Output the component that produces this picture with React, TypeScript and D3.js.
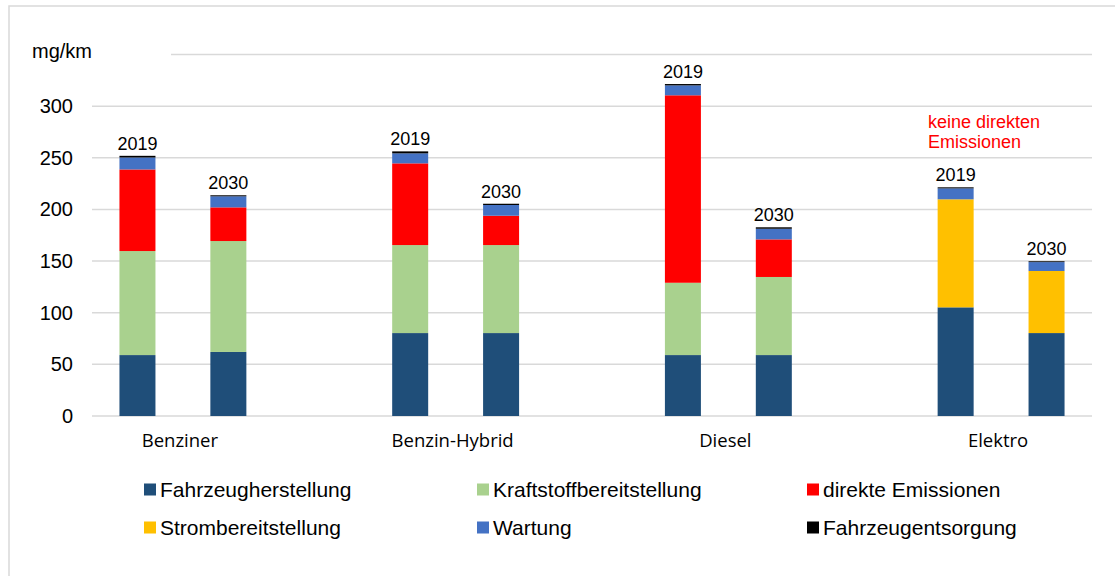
import React from 'react';
import * as d3 from 'd3';

// categories and the two years per category
const categories = ['Benziner', 'Benzin-Hybrid', 'Diesel', 'Elektro'];
const years = ['2019', '2030'];

// series values, order: Benziner 19/30, Hybrid 19/30, Diesel 19/30, Elektro 19/30
const fahrzeugherstellung = [59, 62, 80.3, 80.3, 59, 59, 105.2, 80.3];
const kraftstoffbereitstellung = [100.7, 107.4, 85.2, 85.2, 70, 75.6, 0, 0];
const direkteEmissionen = [79, 32.6, 79.1, 28.4, 181.5, 36.4, 0, 0];
const strombereitstellung = [0, 0, 0, 0, 0, 0, 104.6, 60.1];
const wartung = [11.6, 10.7, 9.7, 10.4, 9.6, 10.3, 10.6, 8.6];
const fahrzeugentsorgung = [1.6, 1, 1.9, 1.2, 1.3, 1.4, 1, 0.8];

const seriesNames = [
  'Fahrzeugherstellung',
  'Kraftstoffbereitstellung',
  'direkte Emissionen',
  'Strombereitstellung',
  'Wartung',
  'Fahrzeugentsorgung',
];
const seriesColors = ['#1F4E79', '#A9D18E', '#FF0000', '#FFC000', '#4472C4', '#000000'];
const seriesValues = [
  fahrzeugherstellung,
  kraftstoffbereitstellung,
  direkteEmissionen,
  strombereitstellung,
  wartung,
  fahrzeugentsorgung,
];

const yTicks = [0, 50, 100, 150, 200, 250, 300, 350];

const width = 1115;
const height = 576;
const plot = { left: 92, right: 1092, top: 54.5, bottom: 416 };

const App = () => {
  // 11 slots: two bars per category, one empty slot between categories
  const slots: string[] = [];
  categories.forEach((c, i) => {
    years.forEach(y => slots.push(`${c}|${y}`));
    if (i < categories.length - 1) slots.push(`gap${i}`);
  });

  const x = d3.scaleBand().domain(slots).range([plot.left, plot.right]).padding(0);
  const y = d3.scaleLinear().domain([0, 350]).range([plot.bottom, plot.top]);
  const barW = 36;

  const rows = slots
    .filter(s => !s.startsWith('gap'))
    .map((s, i) => {
      const row: any = { key: s };
      seriesNames.forEach((n, j) => (row[n] = seriesValues[j][i]));
      return row;
    });

  const stacked = d3.stack().keys(seriesNames)(rows);
  const totals = rows.map(r => d3.sum(seriesNames, n => r[n]));

  const font = "'Liberation Sans', Arial, sans-serif";

  return (
    <div style={{ position: 'absolute', left: 0, top: 0 }}>
      <svg width={width} height={height} style={{ display: 'block', background: '#fff' }}>
        <rect x={9} y={6} width={1120} height={600} fill="#fff" stroke="#D9D9D9" strokeWidth={1.5} />

        {/* gridlines */}
        {yTicks.map(t => (
          <line key={t} x1={plot.left} x2={plot.right} y1={y(t)} y2={y(t)} stroke="#D9D9D9" strokeWidth={1.5} />
        ))}

        {/* y tick labels (350 is hidden behind the unit box) */}
        {yTicks.filter(t => t < 350).map(t => (
          <text key={t} x={73} y={y(t)} dy="0.35em" textAnchor="end" fontFamily={font} fontSize={20} fill="#000">
            {t}
          </text>
        ))}

        {/* unit text box */}
        <rect x={20} y={38} width={151} height={32} fill="#fff" />
        <text x={32} y={58} fontFamily={font} fontSize={20} fill="#000">mg/km</text>

        {/* bars */}
        {stacked.map((layer, j) => (
          <g key={layer.key} fill={seriesColors[j]}>
            {layer.map((d, i) => {
              const h = y(d[0]) - y(d[1]);
              if (h <= 0) return null;
              return (
                <rect
                  key={i}
                  x={(x(rows[i].key) as number) + x.bandwidth() / 2 - barW / 2}
                  y={y(d[1])}
                  width={barW}
                  height={h}
                />
              );
            })}
          </g>
        ))}

        {/* year labels */}
        {rows.map((r, i) => (
          <text
            key={r.key}
            x={(x(r.key) as number) + x.bandwidth() / 2}
            y={y(totals[i]) - 6}
            textAnchor="middle"
            fontFamily={font}
            fontSize={18}
            fill="#000"
          >
            {r.key.split('|')[1]}
          </text>
        ))}

        {/* category labels */}
        {categories.map(c => {
          const a = (x(`${c}|${years[0]}`) as number) + x.bandwidth() / 2;
          const b = (x(`${c}|${years[1]}`) as number) + x.bandwidth() / 2;
          return (
            <text key={c} x={(a + b) / 2 - 3} y={447} textAnchor="middle" fontFamily="'Open Sans', sans-serif" fontSize={18.5} fill="#000">
              {c}
            </text>
          );
        })}

        {/* annotation */}
        <text x={928} y={128} fontFamily={font} fontSize={18} fill="#FF0000">keine direkten</text>
        <text x={928} y={148} fontFamily={font} fontSize={18} fill="#FF0000">Emissionen</text>

        {/* legend */}
        {seriesNames.map((n, i) => {
          const col = i % 3;
          const row = Math.floor(i / 3);
          const lx = [144, 477, 807][col];
          const ly = 497 + row * 38;
          return (
            <g key={n}>
              <rect x={lx} y={ly - 13.5} width={12} height={12} fill={seriesColors[i]} />
              <text x={lx + 16} y={ly} fontFamily={font} fontSize={21} fill="#000">{n}</text>
            </g>
          );
        })}
      </svg>
    </div>
  );
};

export default App;
